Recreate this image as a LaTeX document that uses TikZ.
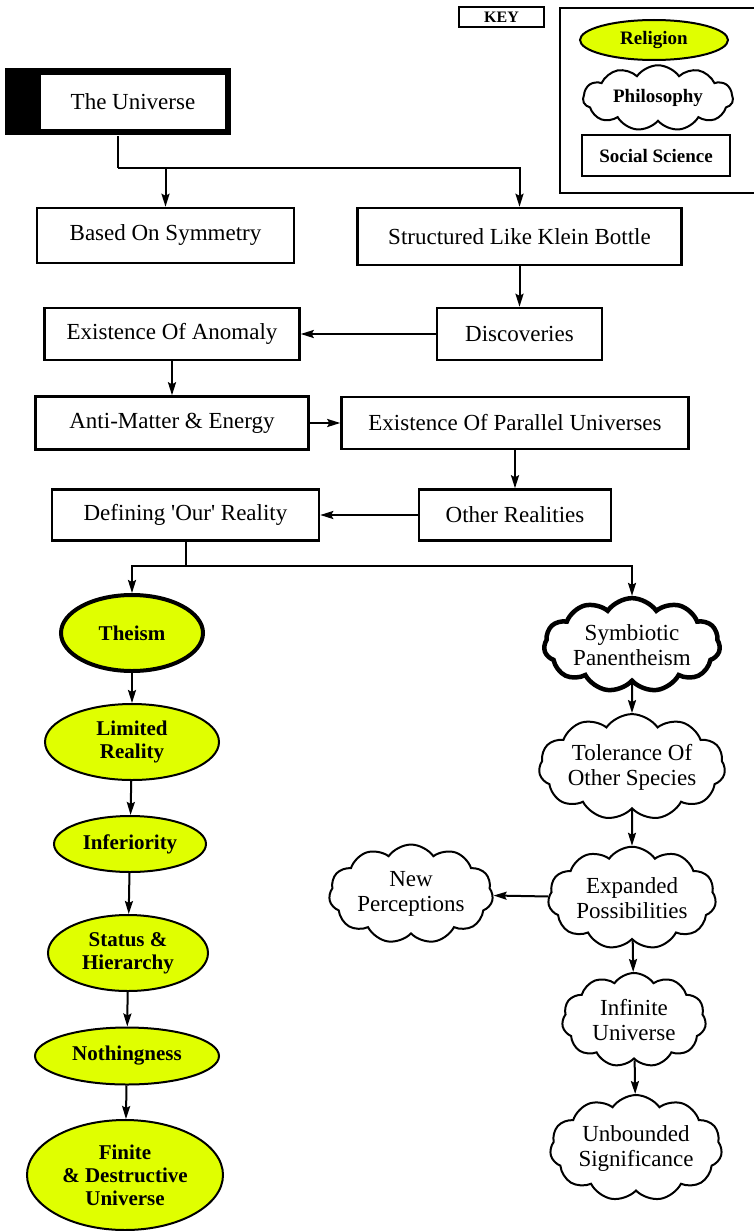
\documentclass[tikz,border=0pt]{standalone}
\usepackage{fontspec}
\setmainfont{Liberation Serif}
\usetikzlibrary{arrows.meta,shapes.geometric,shapes.symbols}
\definecolor{religion}{RGB}{224,255,0}

\begin{document}
\begin{tikzpicture}[
    x=1pt, y=-1pt,
    font=\fontsize{23}{25}\selectfont,
    >={Stealth[length=13pt,width=8pt,inset=2pt]},
    line/.style={draw, black, line width=2pt},
    arr/.style={line, ->},
    sci/.style={draw, black, line width=2.5pt, fill=white, inner sep=0pt},
    rel/.style={ellipse, draw, black, line width=2pt, fill=religion, inner sep=0pt,
      align=center, font=\fontsize{21}{23}\selectfont\bfseries},
    phil/.style={cloud, cloud puffs=11, cloud puff arc=110, aspect=1.9, draw, black,
      line width=2pt, fill=white, inner sep=0pt, align=center},
  ]
  \useasboundingbox (0,0) rectangle (754,1231);

  % ---- key ----
  \node[draw, line width=1.5pt, minimum width=85, minimum height=20, inner sep=0pt,
    font=\fontsize{16}{18}\selectfont\bfseries] (keyt) at (501.5,17) {KEY};
  \draw[black, line width=1.5pt] (754,8) -- (560,8) -- (560,193) -- (754,193);
  \node[rel, minimum width=148, minimum height=40, font=\fontsize{19}{21}\selectfont\bfseries]
    (keyrel) at (654,40) {Religion};
  \node[phil, minimum width=150, minimum height=46, aspect=2.6, font=\fontsize{19}{21}\selectfont\bfseries]
    (keyphil) at (658,98) {Philosophy};
  \node[sci, minimum width=148, minimum height=41, font=\fontsize{19}{21}\selectfont\bfseries]
    (keysci) at (656,155.5) {Social Science};

  % ---- social science chain ----
  \fill[black] (5,68) rectangle (231,135);
  \node[sci, minimum width=226, minimum height=67, draw=none, fill=none] (univbg) at (118,101.5) {};
  \node[sci, minimum width=184, minimum height=54, draw=none] (univ) at (133,102) {The Universe};
  \node[sci, minimum width=257, minimum height=55] (sym) at (165.5,235.5) {Based On Symmetry};
  \node[sci, minimum width=324, minimum height=57] (klein) at (519.5,236.5) {Structured Like Klein Bottle};
  \node[sci, minimum width=165, minimum height=52] (disc) at (519.5,334) {Discoveries};
  \node[sci, minimum width=255, minimum height=52] (anom) at (172,334) {Existence Of Anomaly};
  \node[sci, minimum width=273, minimum height=53] (anti) at (172,423) {Anti-Matter \& Energy};
  \node[sci, minimum width=347, minimum height=52] (para) at (515,423) {Existence Of Parallel Universes};
  \node[sci, minimum width=192, minimum height=51] (other) at (515,515) {Other Realities};
  \node[sci, minimum width=267, minimum height=51] (def) at (185.5,515)
    {Defining \textquotesingle Our\textquotesingle\ Reality};

  \coordinate (j1) at (118,168);
  \draw[line] (univbg.south) -- (j1);
  \draw[arr] (j1) -| (klein.north);
  \draw[arr] (j1 -| sym.north) -- (sym.north);
  \draw[arr] (klein) -- (disc);
  \draw[arr] (disc) -- (anom);
  \draw[arr] (anom) -- (anti);
  \draw[arr] (anti) -- (para);
  \draw[arr] (para) -- (other);
  \draw[arr] (other) -- (def);

  % ---- religion (left) ----
  \node[rel, line width=4pt, minimum width=142, minimum height=76] (theism) at (132,633) {Theism};
  \node[rel, minimum width=174, minimum height=76] (limit) at (132,742) {Limited\\Reality};
  \node[rel, minimum width=152, minimum height=56] (infer) at (130,844) {Inferiority};
  \node[rel, minimum width=160, minimum height=76] (status) at (128,953) {Status \&\\Hierarchy};
  \node[rel, minimum width=184, minimum height=57] (nothing) at (127,1056) {Nothingness};
  \node[rel, minimum width=196, minimum height=110] (finite) at (125,1175) {Finite\\\& Destructive\\Universe};

  % ---- philosophy (right) ----
  \node[phil, line width=4.5pt, minimum width=176, minimum height=80, aspect=2.3] (symb) at (632,645) {Symbiotic\\Panentheism};
  \node[phil, minimum width=178, minimum height=84, aspect=2.2] (toler) at (632,767) {Tolerance Of\\Other Species};
  \node[phil, minimum width=168, minimum height=94] (expand) at (632,898) {Expanded\\Possibilities};
  \node[phil, minimum width=164, minimum height=98] (newp) at (411,894) {New\\Perceptions};
  \node[phil, minimum width=144, minimum height=94] (infin) at (634,1020) {Infinite\\Universe};
  \node[phil, minimum width=172, minimum height=92] (unbound) at (636,1148) {Unbounded\\Significance};

  \coordinate (j2) at (185.5,566);
  \draw[line] (def.south) -- (j2);
  \draw[arr] (j2) -| (theism.north);
  \draw[arr] (j2) -| (symb.north);
  \draw[arr] (theism) -- (limit);
  \draw[arr] (limit) -- (infer);
  \draw[arr] (infer) -- (status);
  \draw[arr] (status) -- (nothing);
  \draw[arr] (nothing) -- (finite);
  \draw[arr] (symb) -- (toler);
  \draw[arr] (toler) -- (expand);
  \draw[arr] (expand) -- (newp);
  \draw[arr] (expand) -- (infin);
  \draw[arr] (infin) -- (unbound);
\end{tikzpicture}
\end{document}
